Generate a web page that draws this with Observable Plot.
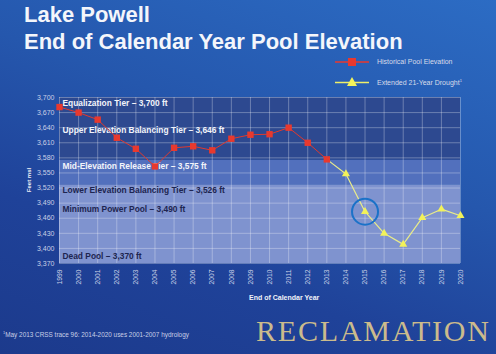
<!DOCTYPE html>
<html><head><meta charset="utf-8">
<script src="https://cdn.jsdelivr.net/npm/d3@7"></script>
<script src="https://cdn.jsdelivr.net/npm/@observablehq/plot@0.6"></script>
<style>
body{margin:0;background:#1c3a8c;}
#wrap{position:relative;width:496px;height:354px;overflow:hidden;
  background:linear-gradient(200deg,#2c6cc4 0%,#2557ad 40%,#1f4299 70%,#1c3a8c 100%);
  font-family:"Liberation Sans",Arial,sans-serif;}
.abs{position:absolute;white-space:nowrap;line-height:1;}
#plot{position:absolute;left:0;top:0;}
.title{color:#f4f6fb;font-weight:bold;font-size:22px;left:24px;}
.leg{font-size:7px;color:#d8dcea;left:377px;}
</style></head><body><div id="wrap">
<div id="plot"></div>
<div class="abs title" style="top:4px">Lake Powell</div>
<div class="abs title" style="top:31px">End of Calendar Year Pool Elevation</div>
<svg class="abs" style="left:330px;top:54px" width="45" height="36">
  <line x1="5" x2="39" y1="8" y2="8" stroke="#e8392e" stroke-width="1.5"/>
  <rect x="18" y="4" width="8" height="8" fill="#e8392e"/>
  <line x1="5" x2="39" y1="28.5" y2="28.5" stroke="#eef06a" stroke-width="1.5"/>
  <path d="M22,23 L27,32 L17,32 Z" fill="#f4f45a"/>
</svg>
<div class="abs leg" style="top:58px">Historical Pool Elevation</div>
<div class="abs leg" style="top:79px">Extended 21-Year Drought<sup style="font-size:4px">1</sup></div>
<div class="abs" style="left:24px;top:180px;transform:translate(-50%,-50%) rotate(-90deg);font-size:6px;font-weight:bold;color:#f0f2f8;left:29px;">Feet msl</div>
<div class="abs" style="left:249px;top:294px;font-size:7px;font-weight:bold;color:#f0f2f8;">End of Calendar Year</div>
<div class="abs" style="left:3px;top:331px;font-size:6.4px;color:#c8cfe6;"><sup style="font-size:4px">1</sup>May 2013 CRSS trace 96: 2014-2020 uses 2001-2007 hydrology</div>
<div class="abs" style="left:256px;top:316px;font-family:'Liberation Serif','Times New Roman',serif;font-size:30px;letter-spacing:1.8px;color:#cbbb8c;">RECLAMATION</div>
</div>
<script>
const histYears = [1999,2000,2001,2002,2003,2004,2005,2006,2007,2008,2009,2010,2011,2012,2013];
const histElev  = [3681,3670,3656,3620,3598,3563,3600,3603,3595,3618,3626,3627,3640,3610,3577];
const droughtYears = [2013,2014,2015,2016,2017,2018,2019,2020];
const droughtElev  = [3577,3548,3473,3430,3408,3461,3478,3465];
const tierNames = ["Equalization Tier \u2013 3,700 ft","Upper Elevation Balancing Tier \u2013 3,646 ft","Mid-Elevation Release Tier \u2013 3,575 ft","Lower Elevation Balancing Tier \u2013 3,526 ft","Minimum Power Pool \u2013 3,490 ft","Dead Pool \u2013 3,370 ft"];
const tierElev = [3700,3646,3575,3526,3490,3370];
const bandTop = [3700,3575,3526];
const bandBottom = [3575,3526,3370];
const yTicks = [3370,3400,3430,3460,3490,3520,3550,3580,3610,3640,3670,3700];
const xTicks = [1999,2000,2001,2002,2003,2004,2005,2006,2007,2008,2009,2010,2011,2012,2013,2014,2015,2016,2017,2018,2019,2020];
const highlightYear = 2015;

const bandColors = ["#2d4990","#5270bd","#7f93cf"];
const hist = histYears.map((x,i)=>({x, y:histElev[i]}));
const drought = droughtYears.map((x,i)=>({x, y:droughtElev[i]}));
const bands = bandTop.map((t,i)=>({top:t, bottom:bandBottom[i], color:bandColors[i]}));
const tiers = tierElev.map((y,i)=>({y, label:tierNames[i], x:xTicks[0]}));
const hl = drought.filter(d=>d.x===highlightYear);

const plot = Plot.plot({
  width:496, height:354,
  marginTop:97, marginBottom:91, marginLeft:59, marginRight:36,
  style:{background:"transparent", fontFamily:"Liberation Sans, Arial, sans-serif"},
  x:{domain:[xTicks[0], xTicks[xTicks.length-1]]},
  y:{domain:[yTicks[0], yTicks[yTicks.length-1]]},
  marks:[
    Plot.rect(bands,{x1:()=>xTicks[0], x2:()=>xTicks[xTicks.length-1], y1:"bottom", y2:"top", fill:d=>d.color}),
    Plot.gridX(xTicks,{stroke:"#ffffff", strokeOpacity:0.3, strokeWidth:1}),
    Plot.gridY(yTicks,{stroke:"#ffffff", strokeOpacity:0.3, strokeWidth:1}),
    Plot.axisY(yTicks,{tickSize:0, tickPadding:5, tickFormat:d3.format(","), fontSize:7, fill:"#c9d0e6", label:null}),
    Plot.axisX(xTicks,{tickSize:0, tickPadding:6, tickRotate:-90, tickFormat:d=>String(d), fontSize:6.7, fill:"#c9d0e6", label:null}),
    Plot.text(tiers.slice(0,3),{x:"x", y:"y", text:"label", textAnchor:"start", lineAnchor:"top", dx:3, dy:2.5, fontSize:8.4, fontWeight:"bold", fill:"#f2f4fa"}),
    Plot.text(tiers.slice(3,5),{x:"x", y:"y", text:"label", textAnchor:"start", lineAnchor:"top", dx:3, dy:2.5, fontSize:8.4, fontWeight:"bold", fill:"#1d2550"}),
    Plot.text(tiers.slice(5),{x:"x", y:"y", text:"label", textAnchor:"start", lineAnchor:"bottom", dx:3, dy:-5, fontSize:8.4, fontWeight:"bold", fill:"#1d2550"}),
    Plot.line(drought,{x:"x", y:"y", stroke:"#e9ec8a", strokeWidth:1.2}),
    Plot.line(hist,{x:"x", y:"y", stroke:"#e0392e", strokeWidth:1}),
    Plot.dot(hist,{x:"x", y:"y", symbol:"square", r:3.6, fill:"#e8392e"}),
    Plot.dot(drought.slice(1),{x:"x", y:"y", symbol:"triangle", r:3, fill:"#f2f25a"}),
    Plot.dot(hl,{x:"x", y:"y", r:13, stroke:"#1b72c8", strokeWidth:2, fill:"none"})
  ]
});
document.getElementById("plot").appendChild(plot);
</script>
</body></html>
